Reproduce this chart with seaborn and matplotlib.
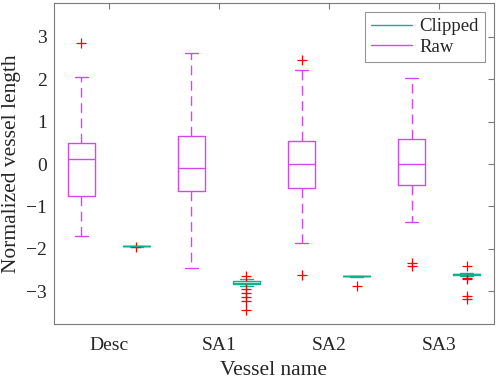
"""
Boxplot: vessel length normalizada, Raw vs Clipped por vaso
"""
import pandas as pd
import matplotlib
matplotlib.use("Agg")
import matplotlib.pyplot as plt
from matplotlib.lines import Line2D
import seaborn as sns

# Datos (estadísticos de cada caja)
vessels = ["Desc", "SA1", "SA2", "SA3"]

raw_lo = [-1.70, -2.45, -1.87, -1.37]
raw_q1 = [-0.76, -0.63, -0.56, -0.50]
raw_med = [0.12, -0.09, 0.00, -0.01]
raw_q3 = [0.50, 0.67, 0.55, 0.59]
raw_hi = [2.06, 2.61, 2.21, 2.02]
raw_out = [[2.86], [], [2.46, -2.62], [-2.33, -2.41]]

clip_lo = [-1.95, -2.87, -2.66, -2.64]
clip_q1 = [-1.945, -2.83, -2.655, -2.62]
clip_med = [-1.94, -2.80, -2.65, -2.60]
clip_q3 = [-1.935, -2.76, -2.645, -2.585]
clip_hi = [-1.93, -2.72, -2.64, -2.57]
clip_out = [[-1.97], [-2.64, -2.96, -3.05, -3.14, -3.23, -3.45],
            [-2.88], [-2.40, -2.70, -2.72, -3.12, -3.18]]

RAW_COLOR = "#d248f0"
CLIP_COLOR = "#12b08c"


def sample_from_stats(lo, q1, med, q3, hi, out, rep=20):
    """Muestra cuyos cuartiles/bigotes reproducen los valores leídos."""
    return list(out) + [lo] + [q1] * rep + [med] * rep + [q3] * rep + [hi]


def build_frame() -> pd.DataFrame:
    rows = []
    for i, v in enumerate(vessels):
        for val in sample_from_stats(raw_lo[i], raw_q1[i], raw_med[i],
                                     raw_q3[i], raw_hi[i], raw_out[i]):
            rows.append({"vessel": v, "type": "Raw", "value": val})
        for val in sample_from_stats(clip_lo[i], clip_q1[i], clip_med[i],
                                     clip_q3[i], clip_hi[i], clip_out[i]):
            rows.append({"vessel": v, "type": "Clipped", "value": val})
    return pd.DataFrame(rows)


sns.set_theme(style="white")
plt.rcParams["font.family"] = ["Liberation Serif", "DejaVu Serif"]

df = build_frame()

fig = plt.figure(figsize=(4.98, 3.8), dpi=100)
ax = fig.add_axes([0.1084, 0.147, 0.8836, 0.845])

sns.boxplot(
    data=df, x="vessel", y="value", hue="type",
    order=vessels, hue_order=["Raw", "Clipped"],
    palette={"Raw": RAW_COLOR, "Clipped": CLIP_COLOR},
    fill=False, width=1.0, gap=0.5, linewidth=1.0,
    whiskerprops={"linestyle": (0, (7, 4))},
    flierprops={"marker": "+", "markeredgecolor": "red",
                "markersize": 7, "markeredgewidth": 0.9},
    legend=False, ax=ax,
)

ax.set_xlim(-0.5, 3.5)
ax.set_ylim(-3.78, 3.8)
ax.set_yticks([-3, -2, -1, 0, 1, 2, 3])
ax.set_xlabel("Vessel name", fontsize=15.5, color="#262626", labelpad=5)
ax.set_ylabel("Normalized vessel length", fontsize=15.5, color="#262626", labelpad=4)

for side in ["top", "right", "left", "bottom"]:
    ax.spines[side].set_visible(True)
    ax.spines[side].set_color("#7a7a7a")
    ax.spines[side].set_linewidth(0.8)
ax.tick_params(axis="both", direction="in", length=4, width=0.8, color="#7a7a7a",
               top=True, right=True, labelsize=14, labelcolor="#262626")
ax.tick_params(axis="x", pad=9)
ax.tick_params(axis="y", pad=5)

handles = [Line2D([], [], color=CLIP_COLOR, lw=1.0),
           Line2D([], [], color=RAW_COLOR, lw=1.0)]
leg = ax.legend(handles, ["Clipped", "Raw"], loc="upper right", fontsize=13.5,
                frameon=True, fancybox=False, edgecolor="#7a7a7a",
                borderaxespad=0.5, handlelength=2.2, handletextpad=0.4,
                borderpad=0.3, labelspacing=0.2)
leg.get_frame().set_linewidth(0.8)

fig.savefig("out.png", dpi=100)
plt.close(fig)
